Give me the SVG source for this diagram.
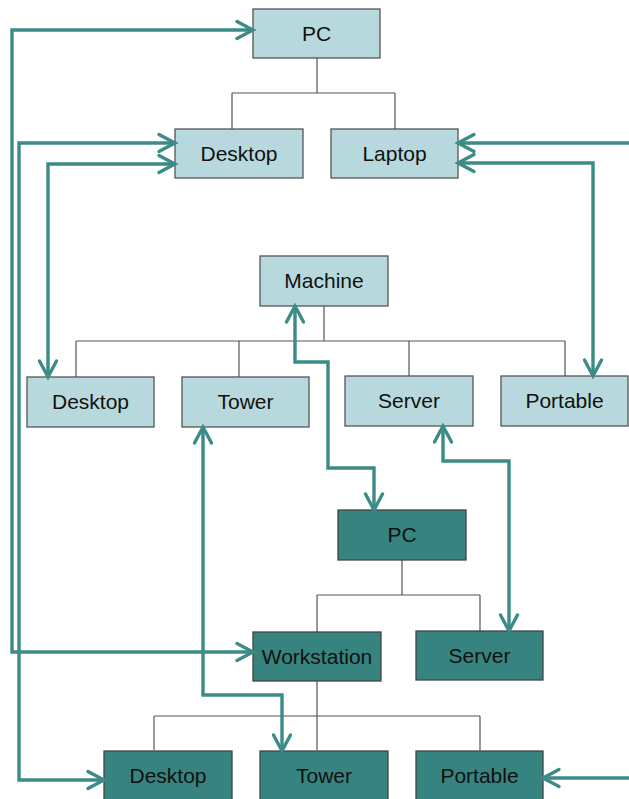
<svg xmlns="http://www.w3.org/2000/svg" width="629" height="799" viewBox="0 0 629 799">
  <defs>
    <style>
      .light rect { fill: #b7d8dc; stroke: #555; stroke-width: 1.3; }
      .dark rect { fill: #36837f; stroke: #444; stroke-width: 1.3; }
      text { font-family: "Liberation Sans", Arial, sans-serif; font-size: 21px; fill: #111; text-anchor: middle; }
      .tree path { fill: none; stroke: #555; stroke-width: 1.2; }
      .links path { fill: none; stroke: #3b8b87; stroke-width: 3.4; stroke-linejoin: miter; }
    </style>
    <marker id="chev" markerUnits="userSpaceOnUse" viewBox="-20 -12 24 24" markerWidth="24" markerHeight="24" refX="0" refY="0" orient="auto-start-reverse">
      <path d="M-16,-8.5 L0,0 L-16,8.5" fill="none" stroke="#3b8b87" stroke-width="3.4" stroke-linecap="round" stroke-linejoin="miter"/>
    </marker>
  </defs>
  <rect width="629" height="799" fill="#fff"/>

  <!-- hierarchy lines -->
  <g class="tree">
    <path d="M317,58 V93 M232,93 H395 M232,93 V129 M395,93 V129"/>
    <path d="M324,306 V341 M76,341 H565 M76,341 V377 M239,341 V377 M409,341 V376 M565,341 V376"/>
    <path d="M402,560 V595 M317,595 H480 M317,595 V632 M480,595 V631"/>
    <path d="M317,681 V750 M154,716 H480 M154,716 V750 M480,716 V750"/>
  </g>

  <!-- top tree -->
  <g id="pc-top" class="light"><rect x="253" y="9" width="127" height="49"/><text x="316.5" y="41">PC</text></g>
  <g id="desktop-top" class="light"><rect x="175" y="129" width="128" height="49"/><text x="239" y="161">Desktop</text></g>
  <g id="laptop-top" class="light"><rect x="331" y="129" width="127" height="49"/><text x="394.5" y="161">Laptop</text></g>

  <!-- middle tree -->
  <g id="machine" class="light"><rect x="260" y="256" width="128" height="50"/><text x="324" y="288">Machine</text></g>
  <g id="desktop-mid" class="light"><rect x="27" y="377" width="127" height="50"/><text x="90.5" y="409">Desktop</text></g>
  <g id="tower-mid" class="light"><rect x="182" y="377" width="127" height="50"/><text x="245.5" y="409">Tower</text></g>
  <g id="server-mid" class="light"><rect x="345" y="376" width="128" height="50"/><text x="409" y="408">Server</text></g>
  <g id="portable-mid" class="light"><rect x="501" y="376" width="127" height="50"/><text x="564.5" y="408">Portable</text></g>

  <!-- bottom tree -->
  <g id="pc-bottom" class="dark"><rect x="338" y="510" width="128" height="50"/><text x="402" y="542">PC</text></g>
  <g id="workstation" class="dark"><rect x="253" y="632" width="128" height="49"/><text x="317" y="664">Workstation</text></g>
  <g id="server-bottom" class="dark"><rect x="416" y="631" width="127" height="49"/><text x="479.5" y="663">Server</text></g>
  <g id="desktop-bottom" class="dark"><rect x="104" y="751" width="128" height="50"/><text x="168" y="783">Desktop</text></g>
  <g id="tower-bottom" class="dark"><rect x="260" y="751" width="128" height="50"/><text x="324" y="783">Tower</text></g>
  <g id="portable-bottom" class="dark"><rect x="416" y="751" width="127" height="50"/><text x="479.5" y="783">Portable</text></g>

  <!-- mapping connectors -->
  <g class="links" marker-start="url(#chev)" marker-end="url(#chev)">
    <path d="M253,30 H12 V652 H253"/>
    <path d="M175,143 H19 V780 H104"/>
    <path d="M175,164 H48 V377"/>
    <path d="M458,143 H660 V778 H543"/>
    <path d="M458,163 H593 V376"/>
    <path d="M295,306 V362 H328 V468 H374 V510"/>
    <path d="M203,427 V695 H282 V751"/>
    <path d="M443,426 V461 H509 V631"/>
  </g>
</svg>
